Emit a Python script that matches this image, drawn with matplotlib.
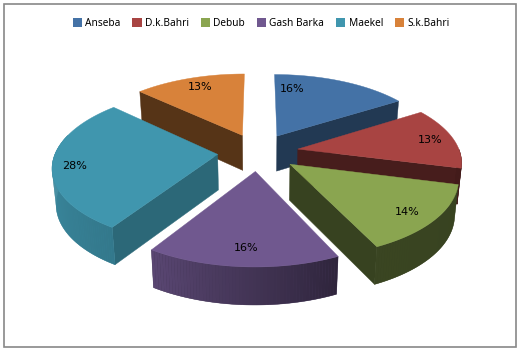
import numpy as np
import matplotlib
matplotlib.use("Agg")
import matplotlib.pyplot as plt
from matplotlib.patches import Patch, Polygon, Rectangle

regions = ["Anseba", "D.k.Bahri", "Debub", "Gash Barka", "Maekel", "S.k.Bahri"]
shares = [16, 13, 14, 16, 28, 13]
colors = ["#4472A6", "#A84442", "#8AA550", "#70588F", "#4096AE", "#D8823A"]
wall_shade = [0.5, 0.42, 0.4, 0.42, 0.69, 0.4]

# back to front, so nearer slices paint over farther ones
draw_order = [5, 0, 1, 4, 2, 3]
label_xy = [(292, 89), (430, 140), (407, 212), (246, 248), (75, 166), (200, 87)]

# projection of the pie plane onto the picture, in pixels
x0, y0 = 258, 152
ax_x, ax_y = 162, 75
persp = 0.148
explode = 0.25
depth = 35.5


def project(x, y):
    s = 1 / (1 + persp * y)
    return x0 + ax_x * x * s, y0 - ax_y * y * s


def top_point(r, deg, mid):
    a, m = np.radians(deg), np.radians(mid)
    return project(r * np.sin(a) + explode * np.sin(m), r * np.cos(a) + explode * np.cos(m))


def bottom_point(r, deg, mid):
    a, m = np.radians(deg), np.radians(mid)
    y = r * np.cos(a) + explode * np.cos(m)
    px, py = top_point(r, deg, mid)
    return x0 + (px - x0) * 0.98, py + depth * (1 - 0.057 * y)


def shaded(color, k):
    return tuple(c * k for c in matplotlib.colors.to_rgb(color))


def rim_shade(deg):
    return np.interp(deg, [100, 155, 212, 270], [0.4, 0.42, 0.8, 0.92])


def face(ax, pts, color, lw=0.3):
    ax.add_patch(Polygon(pts, closed=True, facecolor=color, edgecolor=color, linewidth=lw))


fig = plt.figure(figsize=(5.2, 3.5), dpi=100)
ax = fig.add_axes([0, 0, 1, 1])
ax.set_xlim(0, 520)
ax.set_ylim(350, 0)
ax.axis("off")
ax.add_patch(Rectangle((3.5, 3.5), 512, 343, facecolor="white", edgecolor="#888888", linewidth=1.2))

edges = np.cumsum([0] + shares) * 3.6

for i in draw_order:
    start, end = edges[i], edges[i + 1]
    mid = (start + end) / 2
    wall = shaded(colors[i], wall_shade[i])

    # radial side faces that look towards the viewer
    for t, sign in ((start, -1), (end, 1)):
        if sign * np.sin(np.radians(t)) > 0.01:
            face(ax, [top_point(0, t, mid), top_point(1, t, mid),
                      bottom_point(1, t, mid), bottom_point(0, t, mid)], wall)

    # outer rim: one plain piece underneath hides the seams of the shaded strips
    lo, hi = max(start, 90), min(end, 285)
    if hi > lo:
        steps = np.linspace(lo, hi, int(hi - lo) + 2)
        under = [top_point(1, t, mid) for t in steps] + [bottom_point(1, t, mid) for t in steps[::-1]]
        face(ax, under, shaded(colors[i], rim_shade((lo + hi) / 2)))
        for a, b in zip(steps[:-1], steps[1:]):
            face(ax, [top_point(1, a, mid), top_point(1, b, mid),
                      bottom_point(1, b, mid), bottom_point(1, a, mid)],
                 shaded(colors[i], rim_shade((a + b) / 2)), lw=0)

    angles = np.linspace(start, end, 60)
    outline = [top_point(0, start, mid)] + [top_point(1, t, mid) for t in angles]
    face(ax, outline, colors[i])

for share, (lx, ly) in zip(shares, label_xy):
    ax.text(lx, ly, f"{share}%", ha="center", va="center", fontsize=8, color="black")

handles = [Patch(facecolor=c, edgecolor="none") for c in colors]
fig.legend(handles, regions, ncols=6, loc="center", bbox_to_anchor=(261 / 520, 1 - 23.5 / 350),
           frameon=False, prop={"family": "Noto Sans", "size": 7.3}, handlelength=0.95, handleheight=0.95,
           handletextpad=0.3, columnspacing=1.15, borderpad=0)

fig.savefig("out.png", dpi=100)
